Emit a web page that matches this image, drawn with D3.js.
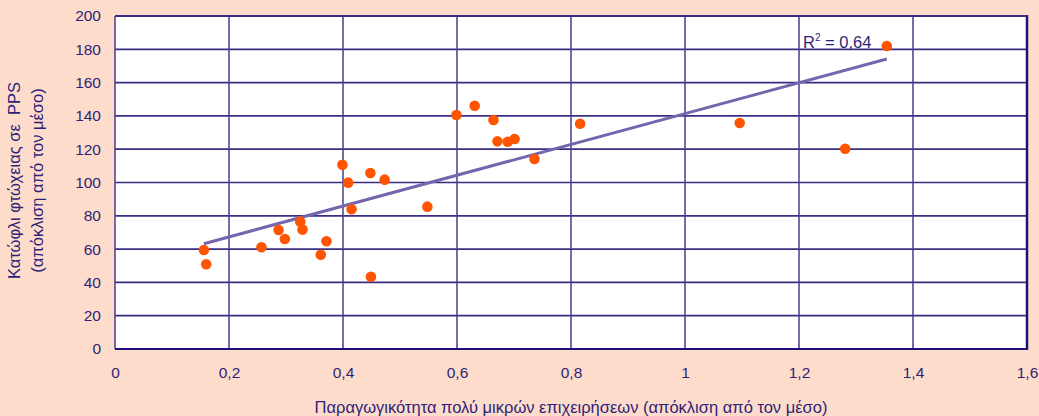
<!DOCTYPE html>
<html>
<head>
<meta charset="utf-8">
<script src="https://cdn.jsdelivr.net/npm/d3@7/dist/d3.min.js"></script>
<style>
  html, body { margin: 0; padding: 0; background: #fddccb; }
  svg { display: block; font-family: "Liberation Sans", Arial, sans-serif; }
</style>
</head>
<body>
<svg id="chart" width="1039" height="416"></svg>
<script>
// Productivity of very small enterprises vs poverty threshold (deviation from mean)
const productivity = [0.156, 0.160, 0.257, 0.287, 0.298, 0.325, 0.329, 0.361, 0.371,
  0.399, 0.409, 0.415, 0.448, 0.449, 0.473, 0.548, 0.599, 0.631, 0.664, 0.671,
  0.689, 0.701, 0.736, 0.816, 1.096, 1.281, 1.354];
const povertyThreshold = [59.5, 50.9, 61.1, 71.5, 66.1, 76.5, 71.7, 56.6, 64.7,
  110.7, 99.9, 83.9, 105.7, 43.4, 101.7, 85.5, 140.5, 146.1, 137.5, 124.7,
  124.5, 126.1, 114.1, 135.3, 135.7, 120.3, 182.0];
// linear trend: threshold = intercept + slope * productivity
const trendSlope = 92.6;
const trendIntercept = 48.8;
const xTicks = [0, 0.2, 0.4, 0.6, 0.8, 1, 1.2, 1.4, 1.6];
const yTicks = [0, 20, 40, 60, 80, 100, 120, 140, 160, 180, 200];
const rSquaredLabel = "0,64";

const svg = d3.select("#chart");
const margin = { left: 115, right: 12, top: 16, bottom: 67 };
const W = 1039, H = 416;

const x = d3.scaleLinear().domain([0, 1.6]).range([margin.left, W - margin.right]);
const y = d3.scaleLinear().domain([0, 200]).range([H - margin.bottom, margin.top]);

const ink = "#2e1f78";
const grid = "#3b2c84";
const fmt = d => String(d).replace(".", ",");

// plot background
svg.append("rect")
  .attr("x", x(0)).attr("y", y(200))
  .attr("width", x(1.6) - x(0)).attr("height", y(0) - y(200))
  .attr("fill", "#ffffff");

// grid lines
svg.append("g").selectAll("line").data(yTicks).join("line")
  .attr("x1", x(0)).attr("x2", x(1.6))
  .attr("y1", d => y(d)).attr("y2", d => y(d))
  .attr("stroke", grid).attr("stroke-width", 1.7);
svg.append("g").selectAll("line").data(xTicks).join("line")
  .attr("y1", y(0)).attr("y2", y(200))
  .attr("x1", d => x(d)).attr("x2", d => x(d))
  .attr("stroke", "#4a3b8e").attr("stroke-width", 1.5);

// frame: right edge drawn heavier
svg.append("line").attr("x1", x(1.6)).attr("x2", x(1.6)).attr("y1", y(200) - 1).attr("y2", y(0) + 1)
  .attr("stroke", "#22107a").attr("stroke-width", 2.5);
svg.append("line").attr("x1", x(0)).attr("x2", x(1.6)).attr("y1", y(0)).attr("y2", y(0))
  .attr("stroke", "#22107a").attr("stroke-width", 1.8);
svg.append("line").attr("x1", x(0)).attr("x2", x(1.6)).attr("y1", y(200)).attr("y2", y(200))
  .attr("stroke", "#3a2a86").attr("stroke-width", 2);

// axes (labels only)
const yAxis = d3.axisLeft(y).tickValues(yTicks).tickFormat(fmt).tickSize(0).tickPadding(14);
const gy = svg.append("g").attr("transform", `translate(${x(0)},0)`).call(yAxis);
gy.select(".domain").remove();
gy.selectAll("text").attr("fill", ink).attr("font-size", 15.5).attr("font-family", "Liberation Sans, Arial, sans-serif");

const xAxis = d3.axisBottom(x).tickValues(xTicks).tickFormat(fmt).tickSize(0).tickPadding(18);
const gx = svg.append("g").attr("transform", `translate(0,${y(0)})`).call(xAxis);
gx.select(".domain").remove();
gx.selectAll("text").attr("fill", ink).attr("font-size", 15.5).attr("font-family", "Liberation Sans, Arial, sans-serif");

// trend line over the observed range
const [x0, x1] = d3.extent(productivity);
svg.append("line")
  .attr("x1", x(x0)).attr("y1", y(trendIntercept + trendSlope * x0))
  .attr("x2", x(x1)).attr("y2", y(trendIntercept + trendSlope * x1))
  .attr("stroke", "#7465ad").attr("stroke-width", 3);

// points
svg.append("g").selectAll("circle").data(productivity).join("circle")
  .attr("cx", d => x(d)).attr("cy", (d, i) => y(povertyThreshold[i]))
  .attr("r", 5.3).attr("fill", "#ff5500");

// R² label
const rl = svg.append("text").attr("x", 803).attr("y", 48)
  .attr("fill", ink).attr("font-size", 16.5);
rl.append("tspan").text("R");
rl.append("tspan").attr("font-size", 10).attr("dy", -7).text("2");
rl.append("tspan").attr("dy", 7).text(" = " + rSquaredLabel);

// axis titles
svg.append("text")
  .attr("x", (x(0) + x(1.6)) / 2).attr("y", 413)
  .attr("text-anchor", "middle").attr("fill", ink).attr("font-size", 16.5)
  .text("Παραγωγικότητα πολύ μικρών επιχειρήσεων (απόκλιση από τον μέσο)");

const yt = svg.append("text")
  .attr("transform", `translate(20,${(y(0) + y(200)) / 2 - 2}) rotate(-90)`)
  .attr("text-anchor", "middle").attr("fill", ink).attr("font-size", 16.5);
yt.append("tspan").attr("x", 0).attr("dy", 0).style("white-space", "pre").text("Κατώφλι φτώχειας σε  PPS");
yt.append("tspan").attr("x", 0).attr("dy", 23).text("(απόκλιση από τον μέσο)");
</script>
</body>
</html>
